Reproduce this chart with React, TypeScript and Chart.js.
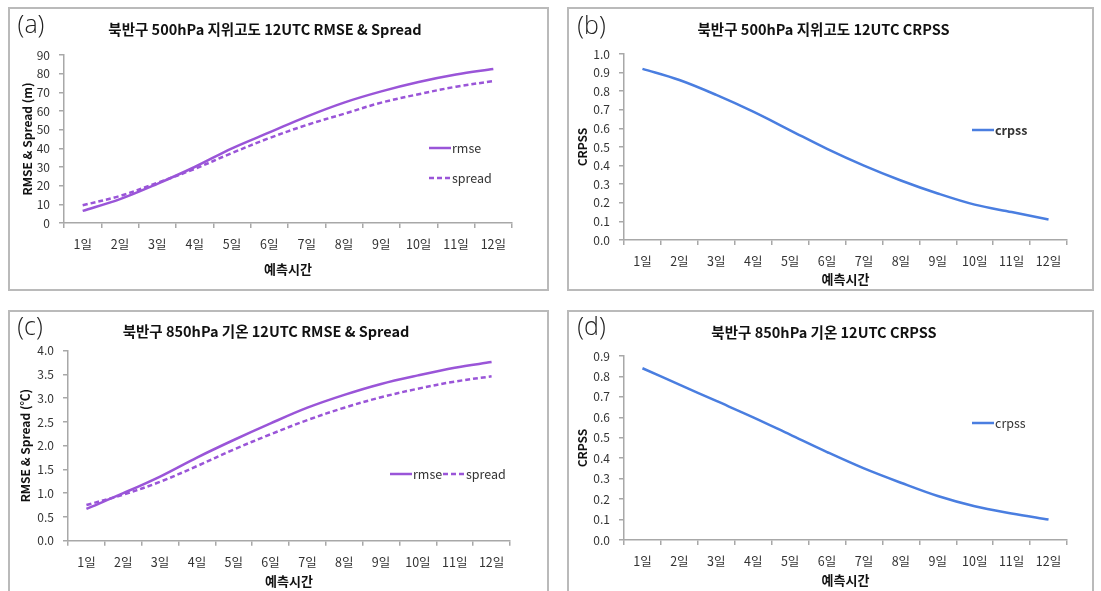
import React, { useEffect, useRef } from 'react';
import { Chart, registerables } from 'chart.js';

Chart.register(...registerables);

// ---------- data ----------
const categories = ['1일', '2일', '3일', '4일', '5일', '6일', '7일', '8일', '9일', '10일', '11일', '12일'];

const rmse500 = [6.5, 12.8, 21, 30, 40, 48.5, 57, 64.5, 70.5, 75.5, 79.5, 82.5];
const spread500 = [9.5, 14.5, 21.5, 29, 37.5, 45.5, 52.5, 58.5, 64.5, 69, 73, 76];
const crpss500 = [0.92, 0.86, 0.78, 0.69, 0.59, 0.49, 0.4, 0.32, 0.25, 0.19, 0.15, 0.11];

const rmse850 = [0.67, 1.0, 1.35, 1.75, 2.12, 2.47, 2.8, 3.07, 3.3, 3.48, 3.64, 3.76];
const spread850 = [0.75, 0.97, 1.24, 1.57, 1.92, 2.24, 2.54, 2.8, 3.02, 3.2, 3.35, 3.46];
const crpss850 = [0.84, 0.76, 0.68, 0.6, 0.515, 0.43, 0.35, 0.28, 0.215, 0.165, 0.13, 0.1];

// y axis [min, max, step]
const yAxisA = [0, 90, 10];
const yAxisB = [0, 1.0, 0.1];
const yAxisC = [0, 4.0, 0.5];
const yAxisD = [0, 0.9, 0.1];

const titles = [
  '북반구 500hPa 지위고도 12UTC RMSE & Spread',
  '북반구 500hPa 지위고도 12UTC CRPSS',
  '북반구 850hPa 기온 12UTC RMSE & Spread',
  '북반구 850hPa 기온 12UTC CRPSS',
];
const letters = ['(a)', '(b)', '(c)', '(d)'];
const yTitles = ['RMSE & Spread (m)', 'CRPSS', 'RMSE & Spread (℃)', 'CRPSS'];
const xTitle = '예측시간';

// ---------- styles ----------
const FONT = "'Noto Sans CJK KR', 'Noto Sans', sans-serif";
const PURPLE = '#9a55d8';
const BLUE = '#4a7ee0';
const AXIS = '#a8a8a8';
const TEXT = '#333333';

type LegendItem = { label: string; color: string; dashed: boolean; x: number; y: number; bold?: boolean };
type Series = { label: string; data: number[]; color: string; dashed: boolean };
type Spec = {
  left: number; top: number; w: number; h: number; boxH: number;
  pl: number; pr: number; pt: number; pb: number; wy: number; hx: number;
  yTitlePad: number; xTitlePad: number;
  yAxis: number[]; decimals: number;
  title: string; titleX: number; titleY: number;
  letter: string; letterX: number; letterY: number;
  yTitle: string;
  series: Series[];
  legend: LegendItem[];
};

const specs: Spec[] = [
  {
    left: 8, top: 7, w: 541, h: 284, boxH: 284,
    pl: 10, pr: 37, pt: 48, pb: 10, wy: 46, hx: 58,
    yTitlePad: 1.8, xTitlePad: 4.2,
    yAxis: yAxisA, decimals: 0,
    title: titles[0], titleX: 257, titleY: 22,
    letter: letters[0], letterX: 23, letterY: 19,
    yTitle: yTitles[0],
    series: [
      { label: 'rmse', data: rmse500, color: PURPLE, dashed: false },
      { label: 'spread', data: spread500, color: PURPLE, dashed: true },
    ],
    legend: [
      { label: 'rmse', color: PURPLE, dashed: false, x: 421, y: 141 },
      { label: 'spread', color: PURPLE, dashed: true, x: 421, y: 171 },
    ],
  },
  {
    left: 567, top: 7, w: 527, h: 284, boxH: 284,
    pl: 6, pr: 27, pt: 47, pb: 2, wy: 51, hx: 49,
    yTitlePad: 1.8, xTitlePad: 2.2,
    yAxis: yAxisB, decimals: 1,
    title: titles[1], titleX: 256.5, titleY: 22,
    letter: letters[1], letterX: 24.5, letterY: 20,
    yTitle: yTitles[1],
    series: [{ label: 'crpss', data: crpss500, color: BLUE, dashed: false }],
    legend: [{ label: 'crpss', color: BLUE, dashed: false, x: 405, y: 123, bold: true }],
  },
  {
    left: 8, top: 310, w: 541, h: 281, boxH: 290,
    pl: 8, pr: 39, pt: 40.7, pb: 0, wy: 52, hx: 50.3,
    yTitlePad: 1.8, xTitlePad: 2.2,
    yAxis: yAxisC, decimals: 1,
    title: titles[2], titleX: 258, titleY: 21.7,
    letter: letters[2], letterX: 22, letterY: 18,
    yTitle: yTitles[2],
    series: [
      { label: 'rmse', data: rmse850, color: PURPLE, dashed: false },
      { label: 'spread', data: spread850, color: PURPLE, dashed: true },
    ],
    legend: [
      { label: 'rmse', color: PURPLE, dashed: false, x: 382, y: 164 },
      { label: 'spread', color: PURPLE, dashed: true, x: 435, y: 164 },
    ],
  },
  {
    left: 567, top: 310, w: 527, h: 281, boxH: 290,
    pl: 6, pr: 27, pt: 46, pb: 0, wy: 51, hx: 51,
    yTitlePad: 1.8, xTitlePad: 3.2,
    yAxis: yAxisD, decimals: 1,
    title: titles[3], titleX: 257, titleY: 22,
    letter: letters[3], letterX: 24.5, letterY: 18,
    yTitle: yTitles[3],
    series: [{ label: 'crpss', data: crpss850, color: BLUE, dashed: false }],
    legend: [{ label: 'crpss', color: BLUE, dashed: false, x: 405, y: 113 }],
  },
];

function Panel({ spec }: { spec: Spec }) {
  const ref = useRef<HTMLCanvasElement | null>(null);

  useEffect(() => {
    if (!ref.current) return;
    const s = spec;
    const overlay = {
      id: 'overlay',
      afterDraw(chart: any) {
        const ctx = chart.ctx as CanvasRenderingContext2D;
        ctx.save();
        // panel letter
        ctx.fillStyle = '#222';
        ctx.font = `300 25px 'Open Sans', 'Noto Sans', sans-serif`;
        ctx.textAlign = 'center';
        ctx.textBaseline = 'middle';
        ctx.fillText(s.letter, s.letterX, s.letterY);
        // title
        ctx.font = `bold 14.5px ${FONT}`;
        ctx.fillStyle = '#111';
        ctx.fillText(s.title, s.titleX, s.titleY);
        // legend
        for (const it of s.legend) {
          ctx.beginPath();
          ctx.strokeStyle = it.color;
          ctx.lineWidth = 2.5;
          ctx.setLineDash(it.dashed ? [5, 3] : []);
          ctx.moveTo(it.x, it.y);
          ctx.lineTo(it.x + 22, it.y);
          ctx.stroke();
          ctx.setLineDash([]);
          ctx.font = `${it.bold ? 'bold ' : ''}12.5px ${FONT}`;
          ctx.fillStyle = TEXT;
          ctx.textAlign = 'left';
          ctx.fillText(it.label, it.x + 23, it.y);
        }
        ctx.restore();
      },
    };

    const chart = new Chart(ref.current, {
      type: 'line',
      data: {
        labels: categories,
        datasets: s.series.map((ser) => ({
          label: ser.label,
          data: ser.data,
          borderColor: ser.color,
          backgroundColor: ser.color,
          borderWidth: 2.5,
          borderDash: ser.dashed ? [5, 3] : [],
          pointRadius: 0,
          tension: 0.35,
          fill: false,
        })),
      },
      options: {
        animation: false,
        responsive: false,
        devicePixelRatio: 1,
        layout: { padding: { left: s.pl, right: s.pr, top: s.pt, bottom: s.pb } },
        plugins: { legend: { display: false }, title: { display: false }, tooltip: { enabled: false } },
        scales: {
          x: {
            type: 'category',
            offset: true,
            grid: { display: true, offset: true, drawOnChartArea: false, drawTicks: true, tickLength: 5, color: AXIS, lineWidth: 1.5 },
            border: { color: AXIS, width: 1.5 },
            ticks: { font: { size: 12.5, family: FONT }, color: TEXT, padding: 9, maxRotation: 0, autoSkip: false },
            title: { display: true, text: xTitle, color: '#111', font: { size: 13, weight: 'bold', family: FONT }, padding: { top: 0, bottom: s.xTitlePad } },
            afterFit: (scale: any) => { scale.height = s.hx; },
          },
          y: {
            min: s.yAxis[0],
            max: s.yAxis[1],
            grid: { display: true, drawOnChartArea: false, drawTicks: true, tickLength: 5, color: AXIS, lineWidth: 1.5 },
            border: { color: AXIS, width: 1.5 },
            ticks: {
              stepSize: s.yAxis[2],
              font: { size: 12, family: FONT },
              color: TEXT,
              padding: 9,
              callback: (v: any) => Number(v).toFixed(s.decimals),
            },
            title: { display: true, text: s.yTitle, color: '#111', font: { size: 12, weight: 'bold', family: FONT }, padding: { top: s.yTitlePad, bottom: 0 } },
            afterFit: (scale: any) => { scale.width = s.wy; },
          },
        },
      },
      plugins: [overlay],
    } as any);
    return () => chart.destroy();
  }, [spec]);

  return (
    <>
      <canvas
        ref={ref}
        width={spec.w}
        height={spec.h}
        style={{ position: 'absolute', left: spec.left, top: spec.top, width: spec.w, height: spec.h }}
      />
      <div
        style={{
          position: 'absolute', left: spec.left, top: spec.top, width: spec.w, height: spec.boxH,
          border: '2px solid #bababa', boxSizing: 'border-box', pointerEvents: 'none',
        }}
      />
    </>
  );
}

export default function App() {
  return (
    <div style={{ position: 'absolute', left: 0, top: 0, width: 1101, height: 591, overflow: 'hidden', background: '#ffffff' }}>
      {specs.map((s, i) => <Panel key={i} spec={s} />)}
    </div>
  );
}
